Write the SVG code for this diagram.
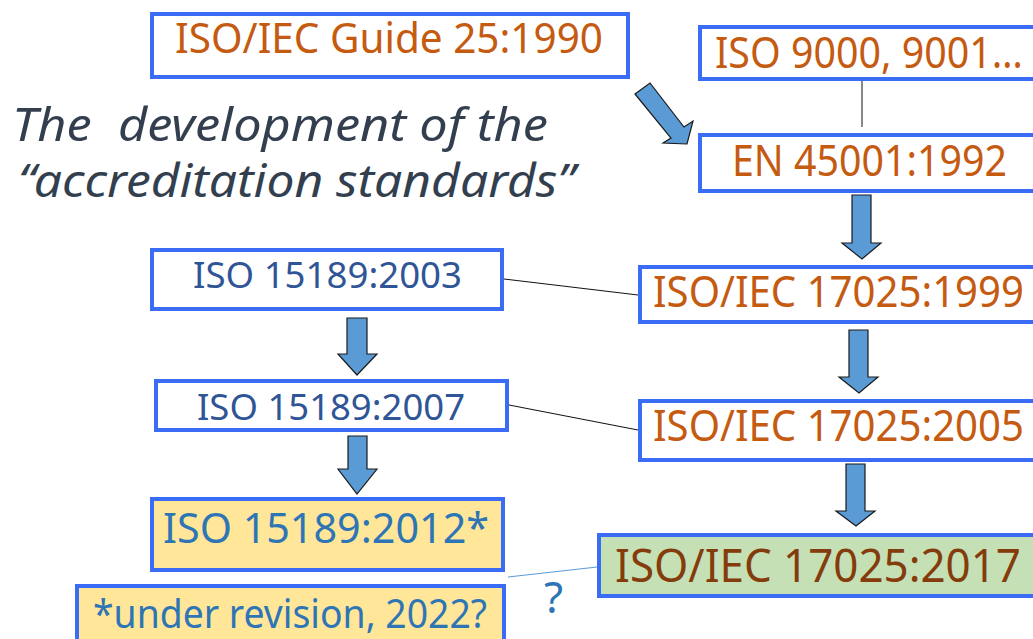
<svg xmlns="http://www.w3.org/2000/svg" width="1033" height="639" viewBox="0 0 1033 639">
<style>
.box{fill:#ffffff;stroke:#3B6CF6;stroke-width:4}
.yel{fill:#FFE699}
.grn{fill:#C5E0B4}
.t{font-family:"Noto Sans","DejaVu Sans",sans-serif}
.or{fill:#C55A11}
.db{fill:#2F5597}
.lb{fill:#2E75B6}
.br{fill:#843C0C}
.arr{fill:#5B9BD5;stroke:#1a1a1a;stroke-width:1.2;stroke-linejoin:miter}
.ln{stroke:#111;stroke-width:1;fill:none}
</style>
<rect width="1033" height="639" fill="#ffffff"/>
<g id="title">
<text class="t" x="12" y="141" font-size="46" font-style="italic" fill="#333F4F" textLength="536" lengthAdjust="spacingAndGlyphs" xml:space="preserve">The  development of the</text>
<text class="t" x="18" y="197" font-size="46" font-style="italic" fill="#333F4F" textLength="557" lengthAdjust="spacingAndGlyphs">“accreditation standards”</text>
</g>
<g id="connectors">
<line class="ln" x1="862" y1="79" x2="862" y2="127" stroke="#333"/>
<line class="ln" x1="504" y1="279" x2="638" y2="295"/>
<line class="ln" x1="509" y1="405" x2="638" y2="430"/>
<line x1="508" y1="577" x2="597" y2="567" stroke="#5B9BD5" stroke-width="1.2"/>
<polygon class="arr" points="635,94 650,83 684,127 693,121 687,144 663,143 671,138"/>
<polygon class="arr" points="852,195 871,195 871,243 881,243 862,259 842,243 852,243"/>
<polygon class="arr" points="849,330 868,330 868,377 878,377 859,393 839,377 849,377"/>
<polygon class="arr" points="846,464 865,464 865,511 875,511 856,526 836,511 846,511"/>
<polygon class="arr" points="347,318 367,318 367,354 377,354 357,375 338,354 347,354"/>
<polygon class="arr" points="348,436 367,436 367,469 377,469 357,494 338,469 348,469"/>
</g>
<g id="n-guide25">
<rect class="box" x="152" y="14" width="476" height="63"/>
<text class="t or" x="175" y="53" font-size="42" textLength="428" lengthAdjust="spacingAndGlyphs">ISO/IEC Guide 25:1990</text>
</g>
<g id="n-iso9000">
<rect class="box" x="700" y="27" width="336" height="52"/>
<text class="t or" x="715" y="68" font-size="44" textLength="308" lengthAdjust="spacingAndGlyphs">ISO 9000, 9001…</text>
</g>
<g id="n-en45001">
<rect class="box" x="700" y="135" width="336" height="56"/>
<text class="t or" x="732" y="176" font-size="43" textLength="275" lengthAdjust="spacingAndGlyphs">EN 45001:1992</text>
</g>
<g id="n-17025-1999">
<rect class="box" x="640" y="267" width="396" height="55"/>
<text class="t or" x="653" y="307" font-size="44" textLength="371" lengthAdjust="spacingAndGlyphs">ISO/IEC 17025:1999</text>
</g>
<g id="n-17025-2005">
<rect class="box" x="640" y="401" width="396" height="59"/>
<text class="t or" x="653" y="441" font-size="44" textLength="371" lengthAdjust="spacingAndGlyphs">ISO/IEC 17025:2005</text>
</g>
<g id="n-17025-2017">
<rect class="box grn" x="599" y="535" width="437" height="61"/>
<text class="t br" x="615" y="582" font-size="46" textLength="406" lengthAdjust="spacingAndGlyphs">ISO/IEC 17025:2017</text>
</g>
<g id="n-15189-2003">
<rect class="box" x="152" y="250" width="350" height="59"/>
<text class="t db" x="193" y="288" font-size="36" textLength="269" lengthAdjust="spacingAndGlyphs">ISO 15189:2003</text>
</g>
<g id="n-15189-2007">
<rect class="box" x="156" y="381" width="351" height="49"/>
<text class="t db" x="197" y="420" font-size="36" textLength="268" lengthAdjust="spacingAndGlyphs">ISO 15189:2007</text>
</g>
<g id="n-15189-2012">
<rect class="box yel" x="152" y="499" width="351" height="71"/>
<text class="t lb" x="163" y="543" font-size="42" textLength="326" lengthAdjust="spacingAndGlyphs">ISO 15189:2012*</text>
</g>
<g id="n-revision">
<rect class="box yel" x="77" y="586" width="427" height="80"/>
<text class="t lb" x="93" y="628" font-size="40" textLength="394" lengthAdjust="spacingAndGlyphs">*under revision, 2022?</text>
</g>
<g id="q">
<text class="t lb" x="544" y="613" font-size="44">?</text>
</g>
</svg>
